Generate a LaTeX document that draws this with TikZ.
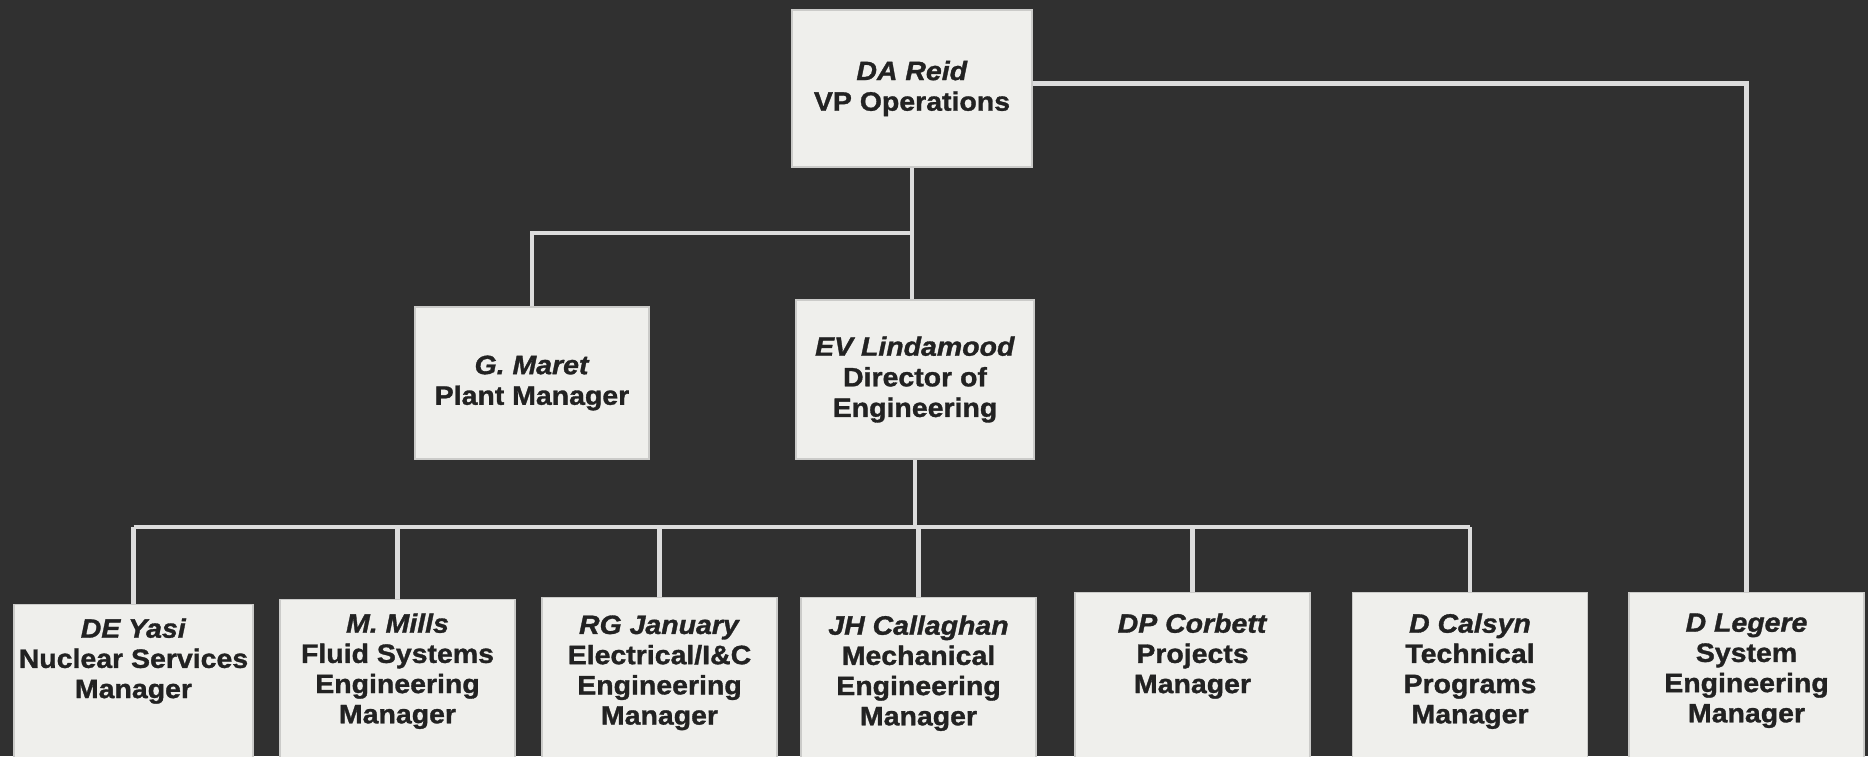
\documentclass[tikz,border=0pt]{standalone}
\usepackage{fontspec}
\setmainfont{Liberation Sans}[BoldFeatures={FakeBold=1.2,FakeStretch=1.07},BoldItalicFeatures={FakeBold=1.2,FakeStretch=1.07}]
\definecolor{bgc}{HTML}{303030}
\definecolor{boxc}{HTML}{EFEFEC}
\definecolor{linec}{HTML}{DCDCDC}
\definecolor{txtc}{HTML}{222222}
\begin{document}
\begin{tikzpicture}[x=0.5pt,y=-0.5pt,
  box/.style={fill=boxc,draw=boxc!85!black,line width=0.6pt,inner sep=0pt,minimum width=117.5pt,
    font=\fontsize{13.3}{15.3}\selectfont\bfseries,text=txtc,align=center},
  btxt/.style={inner sep=0pt,anchor=north,font=\fontsize{13.3}{15.1}\selectfont\bfseries,text=txtc,align=center},
  conn/.style={draw=linec,line width=2.1pt}]
\fill[bgc] (0,0) rectangle (1868,756);
\useasboundingbox (0,0) rectangle (1868,756);
\clip (0,0) rectangle (1868,756);
% top boxes
\node[box,minimum width=120pt,minimum height=78.5pt] (reid) at (912,88.5) {\textit{DA Reid}\\VP Operations};
\node[box,minimum width=117pt,minimum height=76pt] (maret) at (532,383) {\textit{G. Maret}\\Plant Manager};
\node[box,minimum width=119pt,minimum height=79.5pt] (lind) at (915,379.5) {\textit{EV Lindamood}\\Director of\\Engineering};
% bottom boxes
\node[box,anchor=north,minimum width=119.5pt,minimum height=90pt] (yasi) at (133.5,604) {};
\node[box,anchor=north,minimum height=92pt] (mills) at (397.5,599) {};
\node[box,anchor=north,minimum height=93pt] (jan) at (659.5,597) {};
\node[box,anchor=north,minimum height=93pt] (cal) at (918.5,597) {};
\node[box,anchor=north,minimum height=96pt] (corb) at (1192.5,592) {};
\node[box,anchor=north,minimum height=96pt] (calsyn) at (1470,592) {};
\node[box,anchor=north,minimum height=96pt] (leg) at (1746.5,592) {};
\node[btxt] (yasit) at ([yshift=-7pt]yasi.north) {\textit{DE Yasi}\\Nuclear Services\\Manager};
\node[btxt] (millst) at ([yshift=-7pt]mills.north) {\textit{M. Mills}\\Fluid Systems\\Engineering\\Manager};
\node[btxt] (jant) at ([yshift=-9pt]jan.north) {\textit{RG January}\\Electrical/I\&C\\Engineering\\Manager};
\node[btxt] (calt) at ([yshift=-9pt]cal.north) {\textit{JH Callaghan}\\Mechanical\\Engineering\\Manager};
\node[btxt] (corbt) at ([yshift=-10.5pt]corb.north) {\textit{DP Corbett}\\Projects\\Manager};
\node[btxt] (calsynt) at ([yshift=-10.5pt]calsyn.north) {\textit{D Calsyn}\\Technical\\Programs\\Manager};
\node[btxt] (legt) at ([yshift=-10.5pt]leg.north) {\textit{D Legere}\\System\\Engineering\\Manager};
% connectors
\coordinate (br) at (914,233);
\coordinate (bus) at (918,527);
\draw[conn] (reid.south) -- (reid.south |- lind.north);
\draw[conn] (br) -- (br -| maret.north) -- (maret.north);
\draw[conn] ([yshift=2.5pt]reid.east) -- ([yshift=2.5pt]reid.east -| leg.north) -- (leg.north);
\draw[conn] (lind.south) -- (lind.south |- bus);
\draw[conn] (yasi.north |- bus) -- (calsyn.north |- bus);
\foreach \n in {yasi,mills,jan,cal,corb,calsyn}{
  \draw[conn] (\n.north |- bus) -- (\n.north);
}
\end{tikzpicture}
\end{document}
